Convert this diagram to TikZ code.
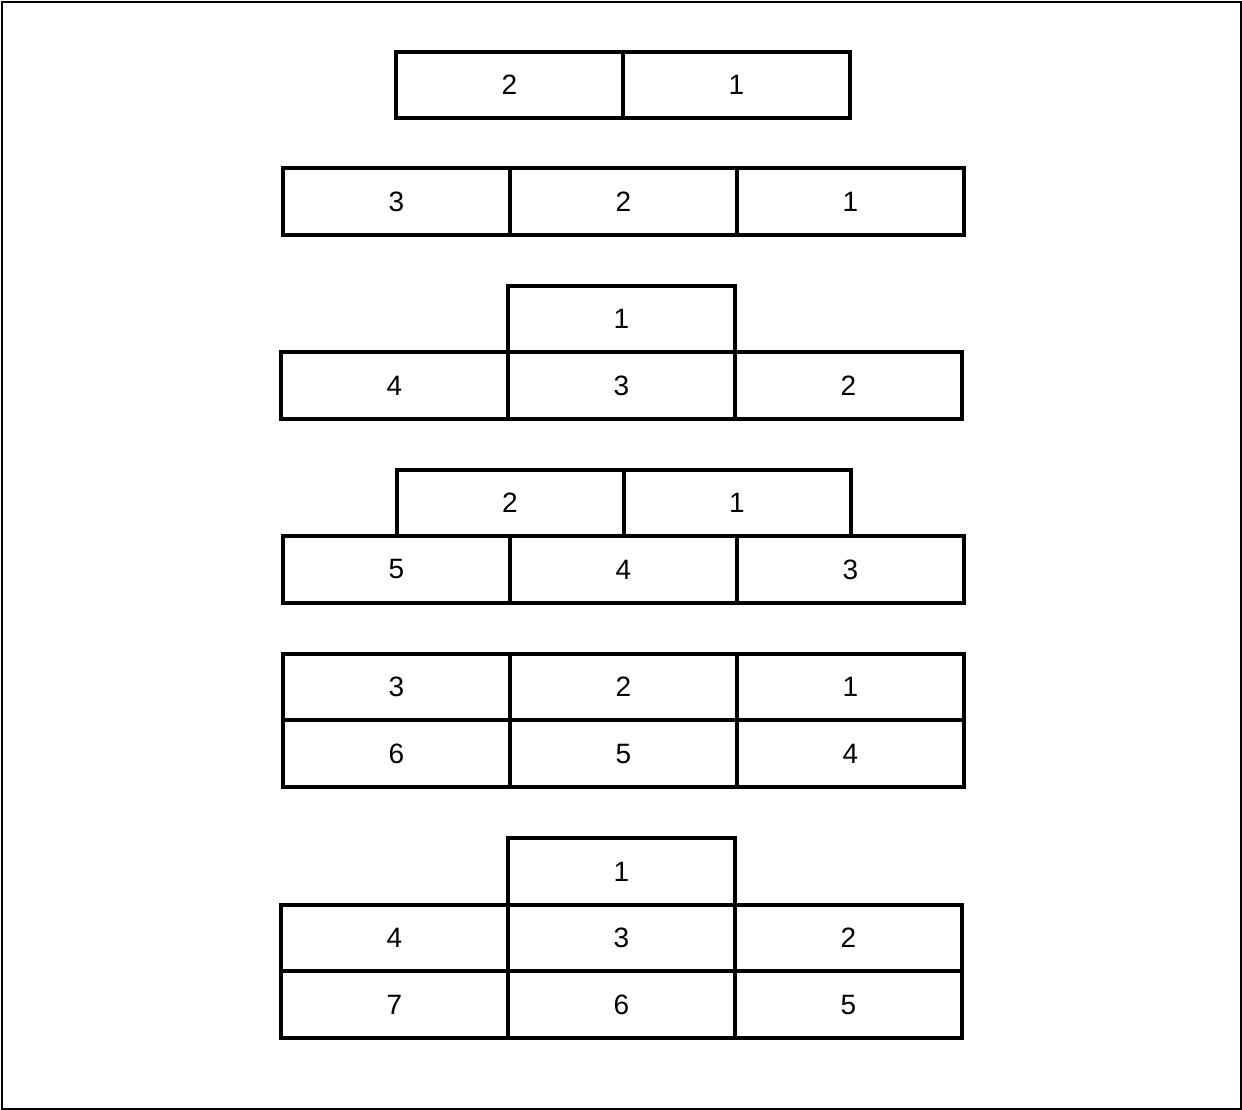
\documentclass[tikz,border=0pt]{standalone}
\usepackage{fontspec}
\setmainfont{Liberation Sans}
\usetikzlibrary{positioning}

\begin{document}
\begin{tikzpicture}[x=1pt, y=-1pt, font=\fontsize{28}{32}\selectfont,
	feld/.style={rectangle, draw, line width=4pt, minimum width=227pt, minimum height=66.5pt, inner sep=0pt, outer sep=0pt}]

		\useasboundingbox (0,0) rectangle (1242,1110);

		% Rahmen
		\draw[line width=2pt] (2,2) rectangle (1240.5,1108.5);

		% --- Reihe 1 ---
		\node[feld] (a2) at (509.5,85) {2};
		\node[feld, right=0pt of a2] (a1) {1};

		% --- Reihe 2 ---
		\node[feld] (b3) at (396.5,201.5) {3};
		\node[feld, right=0pt of b3] (b2) {2};
		\node[feld, right=0pt of b2] (b1) {1};

		% --- Reihe 3 ---
		\node[feld] (c4) at (394.5,385.5) {4};
		\node[feld, right=0pt of c4] (c3) {3};
		\node[feld, right=0pt of c3] (c2) {2};
		\node[feld, above=0pt of c3] (c1) {1};

		% --- Reihe 4 ---
		\node[feld] (d5) at (396.5,569.5) {5};
		\node[feld, right=0pt of d5] (d4) {4};
		\node[feld, right=0pt of d4] (d3) {3};
		\node[feld, anchor=south west] (d2) at (d5.north) {2};
		\node[feld, right=0pt of d2] (d1) {1};

		% --- Reihe 5 ---
		\node[feld] (e3) at (396.5,687) {3};
		\node[feld, right=0pt of e3] (e2) {2};
		\node[feld, right=0pt of e2] (e1) {1};
		\node[feld, below=0pt of e3] (e6) {6};
		\node[feld, right=0pt of e6] (e5) {5};
		\node[feld, right=0pt of e5] (e4) {4};

		% --- Reihe 6 ---
		\node[feld] (f4) at (394.5,938) {4};
		\node[feld, right=0pt of f4] (f3) {3};
		\node[feld, right=0pt of f3] (f2) {2};
		\node[feld, above=0pt of f3] (f1) {1};
		\node[feld, below=0pt of f4] (f7) {7};
		\node[feld, right=0pt of f7] (f6) {6};
		\node[feld, right=0pt of f6] (f5) {5};

	\end{tikzpicture}
\end{document}
